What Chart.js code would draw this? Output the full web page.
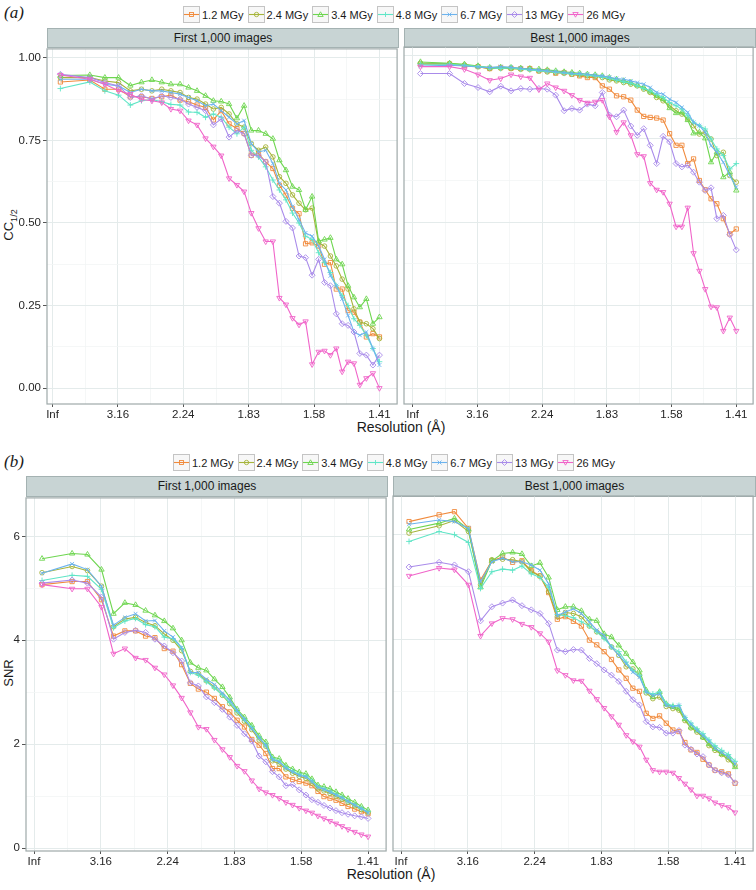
<!DOCTYPE html>
<html>
<head>
<meta charset="utf-8">
<script src="https://cdn.jsdelivr.net/npm/chart.js@4.4.1/dist/chart.umd.min.js"></script>
<style>
  body { margin: 0; width: 756px; height: 890px; background: #fff; position: relative; overflow: hidden;
         font-family: "Liberation Sans", Arial, sans-serif; color: #1a1a1a; }
  .abs { position: absolute; }
  .tag { font-family: "Liberation Serif", "Times New Roman", serif; font-style: italic; font-size: 17px; }
  .legend { display: flex; align-items: center; font-size: 11px; white-space: nowrap; height: 17px; }
  .legend .item { display: flex; align-items: center; margin-right: 4px; }
  .legend svg { margin-right: 2px; }
  .strip { box-sizing: border-box; background: #c8d4d4; border: 1px solid #a4b2b2; font-size: 12px;
           text-align: center; }
  canvas { position: absolute; }
  .ytitle { width: 60px; height: 16px; line-height: 16px; text-align: center; font-size: 13px;
            transform: rotate(-90deg); white-space: nowrap; }
  .ytitle sub { font-size: 9px; }
  .xtitle { font-size: 14px; line-height: 16px; white-space: nowrap; transform: translateX(-50%); }
</style>
</head>
<body>
<div class="abs tag" style="left:4px;top:3px;">(a)</div>
<div class="abs legend" id="legendA" style="left:183px;top:6px;"></div>
<div class="abs strip" style="left:47px;top:28px;width:352px;height:20px;line-height:18px;">First 1,000 images</div>
<div class="abs strip" style="left:404px;top:28px;width:352px;height:20px;line-height:18px;">Best 1,000 images</div>
<div class="abs ytitle" style="left:-21px;top:217px;">CC<sub>1/2</sub></div>
<div class="abs xtitle" style="left:401px;top:419px;">Resolution (Å)</div>

<div class="abs tag" style="left:4px;top:452px;">(b)</div>
<div class="abs legend" id="legendB" style="left:173px;top:454px;"></div>
<div class="abs strip" style="left:26px;top:476px;width:362px;height:21px;line-height:19px;">First 1,000 images</div>
<div class="abs strip" style="left:393px;top:476px;width:363px;height:21px;line-height:19px;">Best 1,000 images</div>
<div class="abs ytitle" style="left:-21px;top:665px;">SNR</div>
<div class="abs xtitle" style="left:391px;top:866px;">Resolution (Å)</div>

<script>
// resolution shells, plotted as 1/d^2
const shellX = [0.012, 0.057, 0.080, 0.101, 0.119, 0.136, 0.152, 0.167, 0.181, 0.195,
  0.208, 0.221, 0.234, 0.246, 0.258, 0.270, 0.282, 0.293, 0.304, 0.315,
  0.326, 0.337, 0.347, 0.357, 0.367, 0.377, 0.387, 0.397, 0.407, 0.416,
  0.425, 0.434, 0.443, 0.452, 0.461, 0.470, 0.480, 0.490, 0.500];

const xTickValues = [0, 0.1, 0.2, 0.3, 0.4, 0.5];
const xTickLabels = ["Inf", "3.16", "2.24", "1.83", "1.58", "1.41"];
const ccTicks = [0, 0.25, 0.5, 0.75, 1];
const ccTickLabels = ["0.00", "0.25", "0.50", "0.75", "1.00"];
const snrTicks = [0, 2, 4, 6];
const snrTickLabels = ["0", "2", "4", "6"];

const doses = ["1.2 MGy", "2.4 MGy", "3.4 MGy", "4.8 MGy", "6.7 MGy", "13 MGy", "26 MGy"];

// (a) CC1/2, first 1,000 images
const ccFirst12 = [0.927, 0.933, 0.905, 0.905, 0.882, 0.882, 0.877, 0.882, 0.887, 0.872, 0.867, 0.857, 0.85, 0.812, 0.84, 0.80, 0.786, 0.771, 0.705, 0.71, 0.685, 0.665, 0.614, 0.584, 0.544, 0.528, 0.437, 0.44, 0.43, 0.375, 0.38, 0.30, 0.30, 0.235, 0.23, 0.20, 0.155, 0.165, 0.155];
const ccFirst24 = [0.94, 0.94, 0.93, 0.925, 0.90, 0.905, 0.90, 0.905, 0.90, 0.895, 0.88, 0.875, 0.86, 0.845, 0.85, 0.83, 0.80, 0.79, 0.74, 0.72, 0.73, 0.70, 0.64, 0.62, 0.585, 0.56, 0.54, 0.545, 0.44, 0.43, 0.40, 0.37, 0.33, 0.30, 0.24, 0.20, 0.195, 0.18, 0.15];
const ccFirst34 = [0.946, 0.948, 0.94, 0.94, 0.916, 0.926, 0.933, 0.926, 0.92, 0.92, 0.91, 0.90, 0.885, 0.87, 0.868, 0.86, 0.817, 0.855, 0.78, 0.78, 0.77, 0.755, 0.69, 0.66, 0.61, 0.60, 0.54, 0.58, 0.445, 0.45, 0.455, 0.39, 0.375, 0.31, 0.275, 0.245, 0.27, 0.195, 0.215];
const ccFirst48 = [0.907, 0.927, 0.90, 0.887, 0.857, 0.87, 0.874, 0.867, 0.859, 0.857, 0.836, 0.835, 0.82, 0.83, 0.82, 0.79, 0.77, 0.79, 0.72, 0.70, 0.67, 0.63, 0.60, 0.57, 0.53, 0.50, 0.46, 0.45, 0.41, 0.38, 0.35, 0.31, 0.28, 0.25, 0.21, 0.19, 0.16, 0.12, 0.08];
const ccFirst67 = [0.935, 0.935, 0.92, 0.915, 0.895, 0.905, 0.90, 0.90, 0.895, 0.89, 0.88, 0.87, 0.855, 0.86, 0.84, 0.82, 0.80, 0.81, 0.74, 0.715, 0.72, 0.68, 0.62, 0.60, 0.55, 0.51, 0.47, 0.46, 0.43, 0.39, 0.34, 0.31, 0.27, 0.22, 0.17, 0.16, 0.17, 0.12, 0.07];
const ccFirst13 = [0.95, 0.94, 0.925, 0.915, 0.88, 0.885, 0.875, 0.885, 0.88, 0.875, 0.86, 0.85, 0.84, 0.797, 0.815, 0.76, 0.78, 0.77, 0.705, 0.705, 0.685, 0.58, 0.56, 0.505, 0.485, 0.40, 0.395, 0.342, 0.39, 0.32, 0.31, 0.225, 0.195, 0.19, 0.17, 0.105, 0.10, 0.07, 0.10];
const ccFirst26 = [0.948, 0.935, 0.92, 0.90, 0.89, 0.874, 0.87, 0.865, 0.845, 0.84, 0.81, 0.797, 0.756, 0.731, 0.704, 0.635, 0.615, 0.595, 0.53, 0.484, 0.444, 0.444, 0.273, 0.253, 0.212, 0.192, 0.202, 0.072, 0.11, 0.113, 0.10, 0.12, 0.05, 0.08, 0.075, 0.01, 0.03, 0.045, 0.0];

// (a) CC1/2, best 1,000 images
const ccBest12 = [0.975, 0.976, 0.97, 0.968, 0.962, 0.965, 0.963, 0.962, 0.962, 0.955, 0.955, 0.948, 0.95, 0.945, 0.94, 0.935, 0.935, 0.91, 0.90, 0.88, 0.877, 0.867, 0.837, 0.818, 0.815, 0.813, 0.807, 0.766, 0.731, 0.731, 0.676, 0.69, 0.625, 0.597, 0.57, 0.555, 0.51, 0.464, 0.479];
const ccBest24 = [0.978, 0.977, 0.973, 0.968, 0.962, 0.963, 0.962, 0.96, 0.96, 0.955, 0.952, 0.95, 0.948, 0.945, 0.943, 0.94, 0.938, 0.935, 0.928, 0.925, 0.92, 0.915, 0.91, 0.90, 0.89, 0.875, 0.865, 0.85, 0.835, 0.825, 0.81, 0.79, 0.765, 0.77, 0.75, 0.70, 0.71, 0.64, 0.62];
const ccBest34 = [0.982, 0.978, 0.975, 0.97, 0.965, 0.966, 0.965, 0.963, 0.962, 0.96, 0.958, 0.955, 0.952, 0.95, 0.948, 0.945, 0.943, 0.94, 0.935, 0.93, 0.925, 0.92, 0.912, 0.905, 0.893, 0.88, 0.87, 0.843, 0.828, 0.83, 0.807, 0.767, 0.77, 0.752, 0.68, 0.71, 0.635, 0.65, 0.595];
const ccBest48 = [0.975, 0.975, 0.972, 0.968, 0.965, 0.962, 0.965, 0.96, 0.958, 0.955, 0.953, 0.95, 0.948, 0.946, 0.944, 0.942, 0.94, 0.937, 0.932, 0.928, 0.922, 0.918, 0.91, 0.902, 0.895, 0.885, 0.875, 0.86, 0.85, 0.84, 0.82, 0.80, 0.79, 0.78, 0.75, 0.72, 0.70, 0.66, 0.676];
const ccBest67 = [0.97, 0.972, 0.97, 0.967, 0.965, 0.968, 0.966, 0.963, 0.96, 0.958, 0.955, 0.953, 0.95, 0.948, 0.947, 0.945, 0.942, 0.94, 0.936, 0.932, 0.93, 0.925, 0.92, 0.915, 0.905, 0.89, 0.885, 0.87, 0.86, 0.845, 0.83, 0.80, 0.79, 0.77, 0.73, 0.71, 0.68, 0.64, 0.605];
const ccBest13 = [0.947, 0.947, 0.917, 0.905, 0.892, 0.909, 0.895, 0.902, 0.90, 0.902, 0.90, 0.882, 0.835, 0.842, 0.837, 0.855, 0.85, 0.89, 0.822, 0.817, 0.837, 0.789, 0.761, 0.781, 0.731, 0.676, 0.758, 0.741, 0.676, 0.666, 0.671, 0.65, 0.62, 0.595, 0.603, 0.51, 0.52, 0.462, 0.416];
const ccBest26 = [0.968, 0.968, 0.96, 0.944, 0.927, 0.932, 0.944, 0.938, 0.934, 0.899, 0.917, 0.905, 0.895, 0.882, 0.867, 0.859, 0.862, 0.867, 0.817, 0.771, 0.80, 0.761, 0.704, 0.698, 0.617, 0.597, 0.59, 0.555, 0.486, 0.486, 0.543, 0.406, 0.353, 0.298, 0.245, 0.243, 0.172, 0.212, 0.172];

// (b) SNR, first 1,000 images
const snrFirst12 = [5.07, 5.13, 5.13, 4.78, 4.08, 4.18, 4.18, 4.08, 4.05, 3.84, 3.79, 3.53, 3.17, 3.06, 3.0, 2.88, 2.72, 2.62, 2.46, 2.33, 2.09, 1.98, 1.82, 1.53, 1.53, 1.37, 1.32, 1.28, 1.25, 1.20, 1.09, 0.99, 0.96, 0.92, 0.86, 0.80, 0.75, 0.70, 0.66];
const snrFirst24 = [5.30, 5.42, 5.34, 5.04, 4.26, 4.41, 4.44, 4.34, 4.28, 4.12, 4.0, 3.80, 3.40, 3.36, 3.22, 3.10, 2.94, 2.78, 2.60, 2.44, 2.28, 2.08, 1.96, 1.68, 1.62, 1.52, 1.44, 1.38, 1.34, 1.25, 1.14, 1.10, 1.05, 0.99, 0.94, 0.88, 0.81, 0.74, 0.68];
const snrFirst34 = [5.57, 5.67, 5.65, 5.36, 4.51, 4.72, 4.68, 4.57, 4.48, 4.37, 4.23, 4.0, 3.57, 3.47, 3.42, 3.25, 3.10, 2.90, 2.67, 2.52, 2.36, 2.16, 2.04, 1.75, 1.72, 1.59, 1.52, 1.46, 1.43, 1.33, 1.21, 1.18, 1.14, 1.08, 1.02, 0.95, 0.88, 0.80, 0.73];
const snrFirst48 = [5.15, 5.25, 5.23, 4.98, 4.24, 4.37, 4.42, 4.30, 4.26, 4.06, 4.03, 3.84, 3.38, 3.33, 3.20, 3.08, 2.95, 2.80, 2.63, 2.47, 2.32, 2.12, 1.98, 1.72, 1.67, 1.55, 1.48, 1.42, 1.38, 1.29, 1.18, 1.14, 1.09, 1.03, 0.97, 0.90, 0.83, 0.76, 0.70];
const snrFirst67 = [5.29, 5.47, 5.36, 5.04, 4.29, 4.44, 4.51, 4.37, 4.38, 4.18, 4.06, 3.86, 3.38, 3.38, 3.25, 3.15, 2.98, 2.85, 2.65, 2.48, 2.30, 2.12, 1.98, 1.70, 1.66, 1.54, 1.47, 1.40, 1.37, 1.28, 1.17, 1.13, 1.08, 1.02, 0.97, 0.90, 0.83, 0.76, 0.68];
const snrFirst13 = [5.10, 5.16, 5.10, 4.83, 4.02, 4.15, 4.19, 4.15, 4.02, 3.89, 3.76, 3.60, 3.18, 3.12, 2.91, 2.80, 2.67, 2.52, 2.36, 2.20, 2.06, 1.77, 1.66, 1.47, 1.37, 1.20, 1.22, 1.12, 1.02, 0.93, 0.88, 0.82, 0.77, 0.72, 0.68, 0.65, 0.62, 0.60, 0.57];
const snrFirst26 = [5.07, 4.99, 4.99, 4.64, 3.74, 3.84, 3.66, 3.62, 3.47, 3.34, 3.13, 2.89, 2.61, 2.33, 2.29, 2.08, 1.90, 1.75, 1.58, 1.48, 1.30, 1.14, 1.07, 1.02, 0.96, 0.88, 0.83, 0.77, 0.72, 0.68, 0.62, 0.57, 0.52, 0.47, 0.42, 0.36, 0.31, 0.26, 0.22];

// (b) SNR, best 1,000 images
const snrBest12 = [6.25, 6.38, 6.44, 6.12, 5.13, 5.50, 5.57, 5.47, 5.50, 5.31, 5.21, 4.89, 4.38, 4.43, 4.34, 4.25, 3.98, 3.89, 3.76, 3.61, 3.41, 3.25, 3.06, 3.00, 2.58, 2.48, 2.53, 2.39, 2.26, 2.23, 2.02, 1.88, 1.83, 1.70, 1.59, 1.49, 1.46, 1.42, 1.24];
const snrBest24 = [6.03, 6.17, 6.27, 6.06, 5.04, 5.52, 5.53, 5.52, 5.48, 5.29, 5.21, 4.91, 4.43, 4.51, 4.49, 4.43, 4.25, 4.14, 4.04, 3.85, 3.69, 3.47, 3.43, 3.31, 2.97, 2.86, 2.89, 2.71, 2.67, 2.64, 2.44, 2.30, 2.22, 2.12, 1.96, 1.87, 1.79, 1.69, 1.58];
const snrBest34 = [6.10, 6.22, 6.31, 6.10, 4.99, 5.50, 5.64, 5.66, 5.63, 5.40, 5.46, 5.18, 4.56, 4.62, 4.62, 4.54, 4.38, 4.35, 4.10, 4.04, 3.88, 3.72, 3.56, 3.40, 3.02, 2.89, 2.99, 2.76, 2.70, 2.67, 2.47, 2.31, 2.25, 2.12, 1.99, 1.90, 1.80, 1.74, 1.55];
const snrBest48 = [5.87, 6.06, 6.00, 5.85, 4.97, 5.29, 5.34, 5.32, 5.40, 5.25, 5.18, 4.99, 4.47, 4.45, 4.41, 4.33, 4.25, 4.14, 4.01, 3.85, 3.76, 3.56, 3.40, 3.31, 2.99, 2.95, 2.99, 2.76, 2.73, 2.73, 2.50, 2.39, 2.28, 2.19, 2.07, 1.96, 1.87, 1.79, 1.66];
const snrBest67 = [6.20, 6.28, 6.25, 6.12, 5.10, 5.48, 5.55, 5.48, 5.48, 5.42, 5.32, 5.06, 4.45, 4.52, 4.58, 4.49, 4.33, 4.17, 4.07, 3.85, 3.69, 3.53, 3.37, 3.27, 2.99, 2.92, 2.95, 2.73, 2.70, 2.73, 2.50, 2.37, 2.25, 2.15, 2.04, 1.91, 1.83, 1.74, 1.61];
const snrBest13 = [5.38, 5.47, 5.42, 5.29, 4.35, 4.62, 4.69, 4.75, 4.64, 4.56, 4.49, 4.30, 3.79, 3.76, 3.80, 3.79, 3.63, 3.53, 3.41, 3.31, 3.19, 3.00, 2.84, 2.74, 2.42, 2.32, 2.31, 2.20, 2.20, 2.25, 1.97, 1.89, 1.80, 1.75, 1.59, 1.49, 1.44, 1.40, 1.25];
const snrBest26 = [5.21, 5.36, 5.33, 5.04, 4.06, 4.30, 4.40, 4.38, 4.29, 4.23, 4.11, 3.95, 3.40, 3.31, 3.21, 3.20, 3.01, 2.85, 2.68, 2.52, 2.36, 2.16, 2.04, 1.94, 1.69, 1.49, 1.46, 1.46, 1.44, 1.34, 1.23, 1.12, 1.00, 1.00, 0.95, 0.87, 0.82, 0.78, 0.68];

const ccFirst = [ccFirst12, ccFirst24, ccFirst34, ccFirst48, ccFirst67, ccFirst13, ccFirst26];
const ccBest = [ccBest12, ccBest24, ccBest34, ccBest48, ccBest67, ccBest13, ccBest26];
const snrFirst = [snrFirst12, snrFirst24, snrFirst34, snrFirst48, snrFirst67, snrFirst13, snrFirst26];
const snrBest = [snrBest12, snrBest24, snrBest34, snrBest48, snrBest67, snrBest13, snrBest26];

// styling
const colors = ["#F08A3C", "#A6B43A", "#6ED650", "#5FE5C6", "#6CB3EE", "#A98BEA", "#F064C9"];
const shapes = ["rect", "circle", "triangle", "cross", "crossRot", "rectRot", "triangle"];
const rotations = [0, 0, 0, 0, 0, 0, 180];
const radii = [3.0, 2.3, 3.1, 2.9, 2.7, 3.0, 3.1];

Chart.defaults.font.family = "'Liberation Sans', Arial, sans-serif";
Chart.defaults.font.size = 11.5;
Chart.defaults.color = "#333333";

const panelBorder = {
  id: "panelBorder",
  afterDraw(chart) {
    const { ctx, chartArea: { left, top, width, height } } = chart;
    ctx.save();
    ctx.strokeStyle = "#9ea9a9";
    ctx.lineWidth = 1.2;
    ctx.strokeRect(left, top, width, height);
    ctx.restore();
  },
};

function withMinors(major, min, max) {
  const out = [];
  const step = major[1] - major[0];
  const first = major[0] - step / 2;
  if (first > min) out.push(first);
  major.forEach((v) => {
    out.push(v);
    const mid = v + step / 2;
    if (mid < max) out.push(mid);
  });
  return out;
}

function axis(majors, labels, range, showLabels, size, horizontal) {
  const isMajor = (v) => majors.some((m) => Math.abs(m - v) < 1e-9);
  return {
    type: "linear",
    min: range[0],
    max: range[1],
    afterBuildTicks: (a) => {
      a.ticks = withMinors(majors, range[0], range[1]).map((v) => ({ value: v }));
    },
    afterFit: (a) => {
      if (horizontal) a.height = size;
      else a.width = size;
    },
    border: { display: false },
    grid: {
      color: (c) => (c.tick && isMajor(c.tick.value) ? "#e4ebeb" : "#f2f5f5"),
      lineWidth: (c) => (c.tick && isMajor(c.tick.value) ? 1 : 0.8),
      drawTicks: showLabels,
      tickLength: horizontal ? 3 : 4,
      tickColor: (c) => (c.tick && isMajor(c.tick.value) ? "#555555" : "rgba(0,0,0,0)"),
    },
    ticks: {
      display: showLabels,
      autoSkip: false,
      maxRotation: 0,
      padding: horizontal ? 1 : 2,
      color: "#262626",
      callback: (v) => {
        const i = majors.findIndex((m) => Math.abs(m - v) < 1e-9);
        return i >= 0 ? labels[i] : "";
      },
    },
  };
}

function drawPanel(area, xRange, yRange, yMajors, yLabels, series, showY) {
  const padLeft = showY ? 0 : 5;
  const axisW = showY ? area.left : 0;
  const canvas = document.createElement("canvas");
  const w = padLeft + axisW + area.width + 3;
  const h = 7 + area.height + 22;
  canvas.width = w;
  canvas.height = h;
  canvas.style.left = area.left - axisW - padLeft + "px";
  canvas.style.top = area.top - 7 + "px";
  canvas.style.width = w + "px";
  canvas.style.height = h + "px";
  document.body.appendChild(canvas);

  new Chart(canvas, {
    type: "line",
    data: {
      datasets: series.map((vals, i) => ({
        label: doses[i],
        data: vals.map((v, j) => ({ x: shellX[j], y: v })),
        borderColor: colors[i],
        backgroundColor: colors[i],
        pointBackgroundColor: "rgba(0,0,0,0)",
        pointBorderColor: colors[i],
        pointStyle: shapes[i],
        pointRotation: rotations[i],
        pointRadius: radii[i],
        pointBorderWidth: 0.9,
        borderWidth: 1.1,
        tension: 0,
        order: series.length - i,
      })),
    },
    plugins: [panelBorder],
    options: {
      responsive: false,
      animation: false,
      devicePixelRatio: 1,
      layout: { padding: { top: 7, left: padLeft, right: 3, bottom: 0 } },
      plugins: { legend: { display: false }, tooltip: { enabled: false } },
      scales: {
        x: axis(xTickValues, xTickLabels, xRange, true, 22, true),
        y: axis(yMajors, yLabels, yRange, showY, axisW, false),
      },
    },
  });
}

drawPanel({ left: 47, top: 47, width: 352, height: 357 }, [-0.0085, 0.527], [-0.048, 1.027], ccTicks, ccTickLabels, ccFirst, true);
drawPanel({ left: 404, top: 47, width: 351, height: 357 }, [-0.0134, 0.526], [-0.048, 1.027], ccTicks, ccTickLabels, ccBest, false);
drawPanel({ left: 26, top: 496, width: 362, height: 355 }, [-0.012, 0.527], [-0.057, 6.74], snrTicks, snrTickLabels, snrFirst, true);
drawPanel({ left: 393, top: 496, width: 362, height: 355 }, [-0.012, 0.527], [-0.057, 6.74], snrTicks, snrTickLabels, snrBest, false);

// legend keys
function marker(i) {
  const c = colors[i];
  const s = `fill="none" stroke="${c}" stroke-width="0.9"`;
  switch (i) {
    case 0: return `<rect x="6.5" y="6.5" width="4" height="4" ${s}/>`;
    case 1: return `<circle cx="8.5" cy="8.5" r="2.2" ${s}/>`;
    case 2: return `<polygon points="8.5,5.8 11.2,10.5 5.8,10.5" ${s}/>`;
    case 3: return `<path d="M6 8.5H11M8.5 6V11" ${s}/>`;
    case 4: return `<path d="M6.5 6.5L10.5 10.5M10.5 6.5L6.5 10.5" ${s}/>`;
    case 5: return `<polygon points="8.5,5.5 11.5,8.5 8.5,11.5 5.5,8.5" ${s}/>`;
    default: return `<polygon points="5.8,6.5 11.2,6.5 8.5,11.2" ${s}/>`;
  }
}

function buildLegend(id) {
  const el = document.getElementById(id);
  doses.forEach((d, i) => {
    const item = document.createElement("div");
    item.className = "item";
    item.innerHTML =
      `<svg width="17" height="17" viewBox="0 0 17 17">` +
      `<rect x="0.5" y="0.5" width="16" height="16" fill="#f7f7f7" stroke="#c4c4c4"/>` +
      `<line x1="1" y1="8.5" x2="16" y2="8.5" stroke="${colors[i]}" stroke-width="1.1"/>` +
      marker(i) + `</svg><span>${d}</span>`;
    el.appendChild(item);
  });
}
buildLegend("legendA");
buildLegend("legendB");
</script>
</body>
</html>
